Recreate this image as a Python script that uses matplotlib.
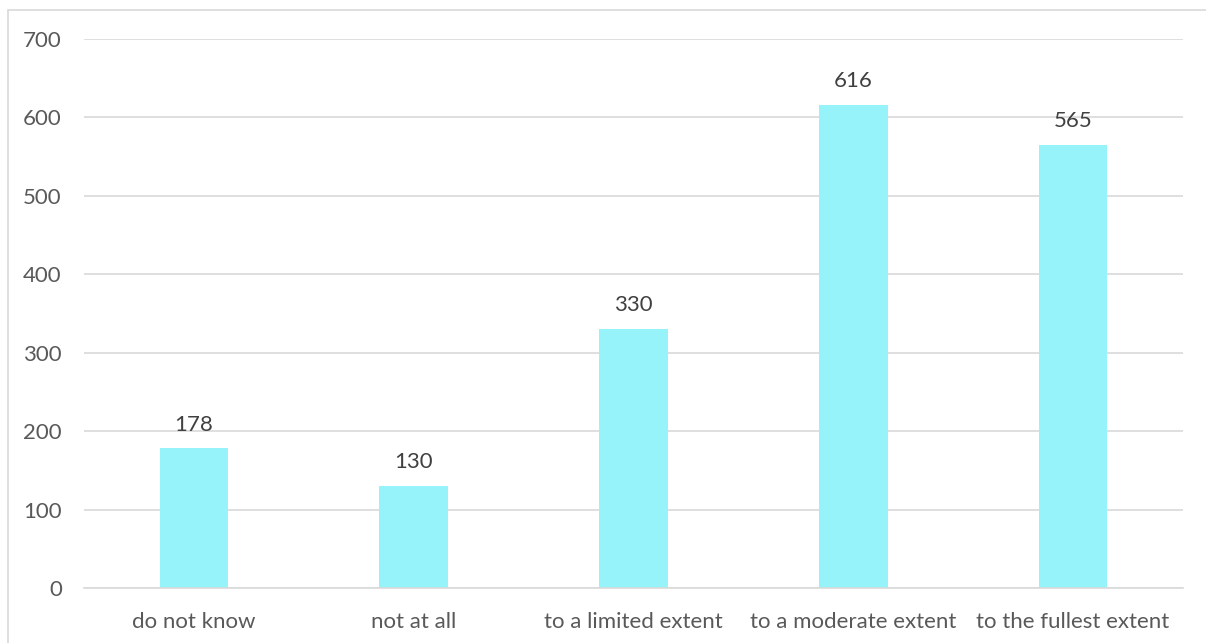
import matplotlib.pyplot as plt
from matplotlib.patches import Rectangle

categories = ['do not know', 'not at all', 'to a limited extent',
              'to a moderate extent', 'to the fullest extent']
counts = [178, 130, 330, 616, 565]
yticks = [0, 100, 200, 300, 400, 500, 600, 700]

plt.rcParams['font.family'] = ['Lato', 'DejaVu Sans']

W, H = 1206, 643
fig = plt.figure(figsize=(W / 100, H / 100), dpi=100)
ax = fig.add_axes([84 / W, 1 - 588 / H, (1183 - 84) / W, (588 - 39) / H])

x = range(len(categories))
bars = ax.bar(x, counts, width=0.3125, color='#97F3FA', zorder=2)
for b, v in zip(bars, counts):
    ax.annotate(str(v), (b.get_x() + b.get_width() / 2, v),
                xytext=(0, 10), textcoords='offset points',
                ha='center', va='bottom', fontsize=16, color='#404040')

ax.set_xlim(-0.5, len(categories) - 0.5)
ax.set_ylim(0, 700)
ax.set_yticks(yticks)
ax.set_xticks(list(x))
ax.set_xticklabels(categories)
ax.yaxis.grid(True, color='#D9D9D9', linewidth=1.2, zorder=0)
for s in ['top', 'right', 'left']:
    ax.spines[s].set_visible(False)
ax.spines['bottom'].set_color('#D9D9D9')
ax.spines['bottom'].set_linewidth(1.2)
ax.tick_params(length=0, labelsize=16, colors='#595959')
ax.tick_params(axis='y', pad=16)
ax.tick_params(axis='x', pad=17)

# chart frame
fig.patches.append(Rectangle((8 / W, -0.1), 1.2, 1 - 10 / H + 0.1,
                             transform=fig.transFigure, fill=False,
                             edgecolor='#D9D9D9', linewidth=1.2))

fig.savefig('out.png', dpi=100)
